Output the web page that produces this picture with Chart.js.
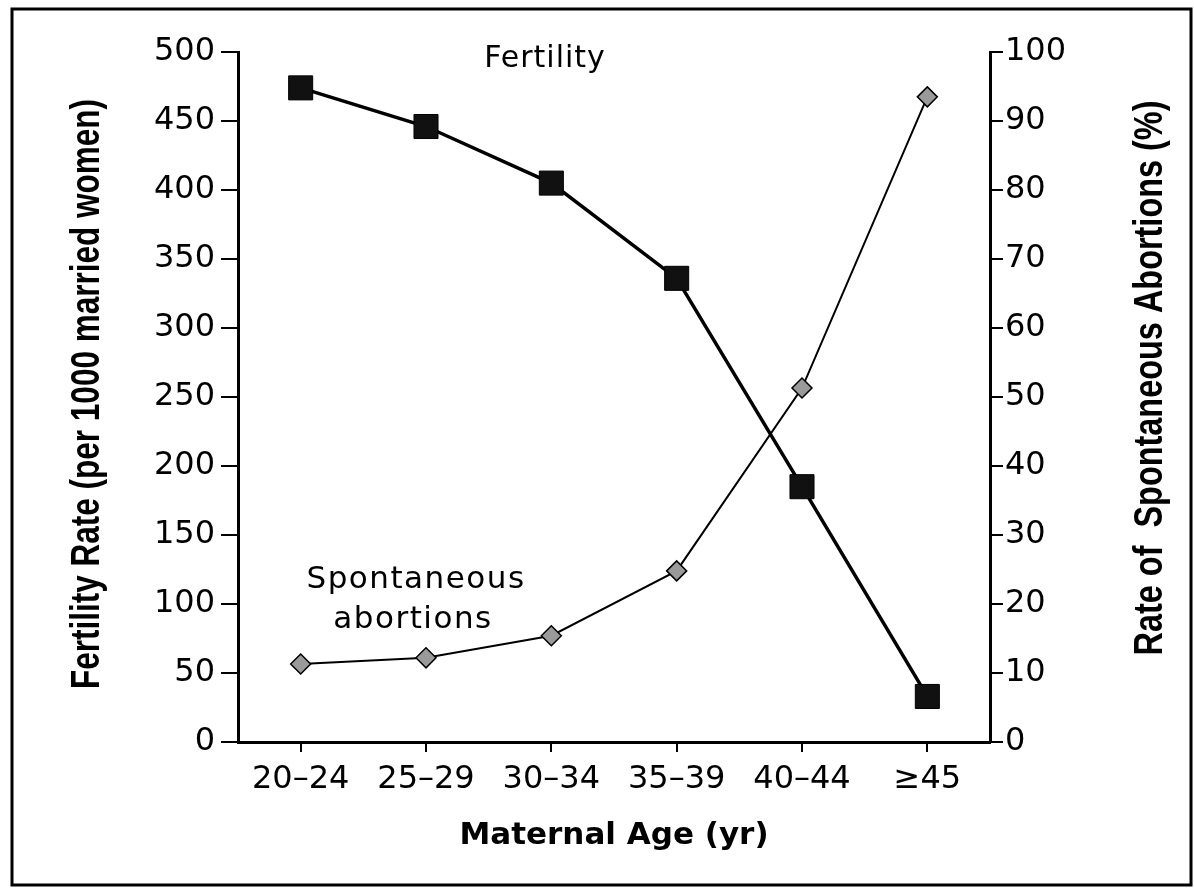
<!DOCTYPE html>
<html>
<head>
<meta charset="utf-8">
<script src="https://cdn.jsdelivr.net/npm/chart.js@4"></script>
<style>
  html, body { margin: 0; padding: 0; background: #fff; }
  #wrap { width: 1194px; height: 890px; position: relative; }
</style>
</head>
<body>
<div id="wrap"><canvas id="chart" width="1194" height="890"></canvas></div>
<script>
// ---- data ----
const ageGroups = ["20\u201324", "25\u201329", "30\u201334", "35\u201339", "40\u201344", "\u226545"];
const fertilityRate = [474, 446, 405, 336, 185, 33];          // per 1000 married women (left axis)
const abortionRate = [11.3, 12.2, 15.4, 24.8, 51.3, 93.5];      // % (right axis)
const leftTicks = [0, 50, 100, 150, 200, 250, 300, 350, 400, 450, 500];
const rightTicks = [0, 10, 20, 30, 40, 50, 60, 70, 80, 90, 100];

const tickFont = { family: "'DejaVu Sans', sans-serif", size: 32 };

// condensed bold text along the y axes (squeezed to the length seen in the figure)
function drawVerticalTitle(ctx, text, cx, cy, length) {
    ctx.save();
    ctx.font = "bold 40px 'Liberation Sans', Arial, sans-serif";
    const w = ctx.measureText(text).width;
    ctx.translate(cx, cy);
    ctx.rotate(-Math.PI / 2);
    ctx.scale(length / w, 1);
    ctx.textAlign = "center";
    ctx.textBaseline = "middle";
    ctx.fillStyle = "#000";
    ctx.fillText(text, 0, 0);
    ctx.restore();
}

// frame + in-plot labels + axis titles
const decor = {
    id: "decor",
    afterDraw(chart) {
        const ctx = chart.ctx;
        ctx.save();
        ctx.strokeStyle = "#000";
        ctx.lineWidth = 3;
        ctx.strokeRect(12, 9, 1179, 876);

        ctx.fillStyle = "#000";
        ctx.textAlign = "center";
        ctx.textBaseline = "alphabetic";
        ctx.font = "30px 'DejaVu Sans', sans-serif";
        ctx.letterSpacing = "1px";
        ctx.fillText("Fertility", 545, 67);
        ctx.font = "31px 'DejaVu Sans', sans-serif";
        ctx.letterSpacing = "1.5px";
        ctx.fillText("Spontaneous", 416, 588);
        ctx.fillText("abortions", 413, 628);
        ctx.restore();

        drawVerticalTitle(ctx, "Fertility Rate (per 1000 married women)", 88, 394, 590);
        drawVerticalTitle(ctx, "Rate of  Spontaneous Abortions (%)", 1151, 378, 555);
    }
};

new Chart(document.getElementById("chart"), {
    type: "line",
    data: {
        labels: ageGroups,
        datasets: [
            {
                label: "Fertility",
                data: fertilityRate,
                yAxisID: "y",
                borderColor: "#000",
                borderWidth: 3.5,
                pointStyle: "rect",
                pointRadius: 17,
                pointBackgroundColor: "#111",
                pointBorderColor: "#000",
                pointBorderWidth: 1,
                tension: 0
            },
            {
                label: "Spontaneous abortions",
                data: abortionRate,
                yAxisID: "y1",
                borderColor: "#000",
                borderWidth: 2,
                pointStyle: "rectRot",
                pointRadius: 10,
                pointBackgroundColor: "#9a9a9a",
                pointBorderColor: "#000",
                pointBorderWidth: 1.5,
                tension: 0
            }
        ]
    },
    options: {
        responsive: false,
        animation: false,
        devicePixelRatio: 1,
        layout: { padding: { left: 20, right: 20, top: 52, bottom: 30 } },
        plugins: { legend: { display: false }, tooltip: { enabled: false } },
        scales: {
            x: {
                offset: true,
                border: { color: "#000", width: 3 },
                grid: { drawOnChartArea: false, drawTicks: true, tickLength: 10, color: "#000", lineWidth: 2 },
                ticks: { color: "#000", font: tickFont, padding: 8, maxRotation: 0 },
                title: {
                    display: true,
                    text: "Maternal Age (yr)",
                    color: "#000",
                    font: { family: "'DejaVu Sans', sans-serif", size: 31, weight: "bold" },
                    padding: { top: 14, bottom: 5 }
                },
                afterFit(scale) { scale.height = 118; }
            },
            y: {
                position: "left",
                min: 0,
                max: 500,
                afterBuildTicks(scale) { scale.ticks = leftTicks.map(v => ({ value: v })); },
                border: { color: "#000", width: 3 },
                grid: { drawOnChartArea: false, drawTicks: true, tickLength: 17, color: "#000", lineWidth: 2 },
                ticks: { color: "#000", font: tickFont, padding: 6 },
                afterFit(scale) { scale.width = 218; }
            },
            y1: {
                position: "right",
                min: 0,
                max: 100,
                afterBuildTicks(scale) { scale.ticks = rightTicks.map(v => ({ value: v })); },
                border: { color: "#000", width: 3 },
                grid: { drawOnChartArea: false, drawTicks: true, tickLength: 13, color: "#000", lineWidth: 2 },
                ticks: { color: "#000", font: tickFont, padding: 2 },
                afterFit(scale) { scale.width = 184; }
            }
        }
    },
    plugins: [decor]
});
</script>
</body>
</html>
